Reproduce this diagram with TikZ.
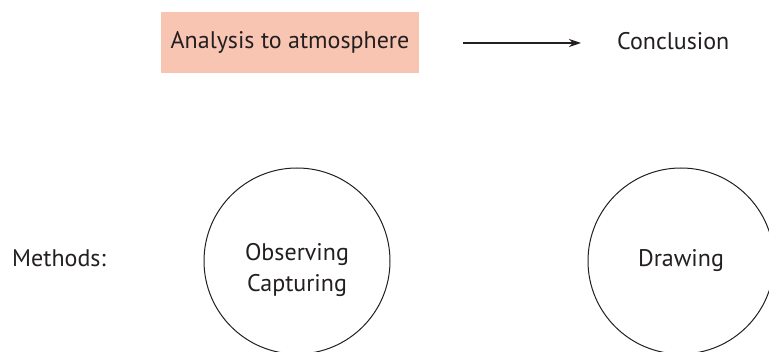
\documentclass[tikz,border=0pt]{standalone}
\usepackage{fontspec}
\setmainfont{PT Sans}
\usetikzlibrary{arrows.meta}
\definecolor{boxpink}{HTML}{F9C5B3}
\definecolor{txt}{HTML}{231F20}
\begin{document}
\begin{tikzpicture}[x=1pt,y=-1pt,
  lbl/.style={font=\fontsize{24}{31}\selectfont, text=txt, inner sep=0pt, anchor=base},
  ring/.style={draw=txt, line width=1pt, circle, minimum size=186pt, inner sep=0pt},
  pinkbox/.style={fill=boxpink, minimum width=258pt, inner sep=0pt, text height=37pt, text depth=24pt, font=\fontsize{24}{31}\selectfont, text=txt}]
\useasboundingbox (0,0) rectangle (769,352);
\fill[white] (0,0) rectangle (769,352);
\node[pinkbox, anchor=base] (ana) at (290,49) {Analysis to atmosphere};
\node[lbl, anchor=base west] (con) at (617,50) {Conclusion};
\coordinate (as) at (463,43);
\coordinate (ae) at (581,43);
\draw[line width=1.1pt, draw=txt, -{Stealth[length=12pt,width=8pt]}] (as) -- (ae);
\node[lbl, anchor=base west] (met) at (12,267) {Methods:};
\node[ring] (obs) at (297,261) {};
\node[lbl] (obs1) at (297,261) {Observing};
\node[lbl] (obs2) at (297,292) {Capturing};
\node[ring] (dra) at (681,261) {};
\node[lbl] (dra1) at (681,267) {Drawing};
\end{tikzpicture}
\end{document}
